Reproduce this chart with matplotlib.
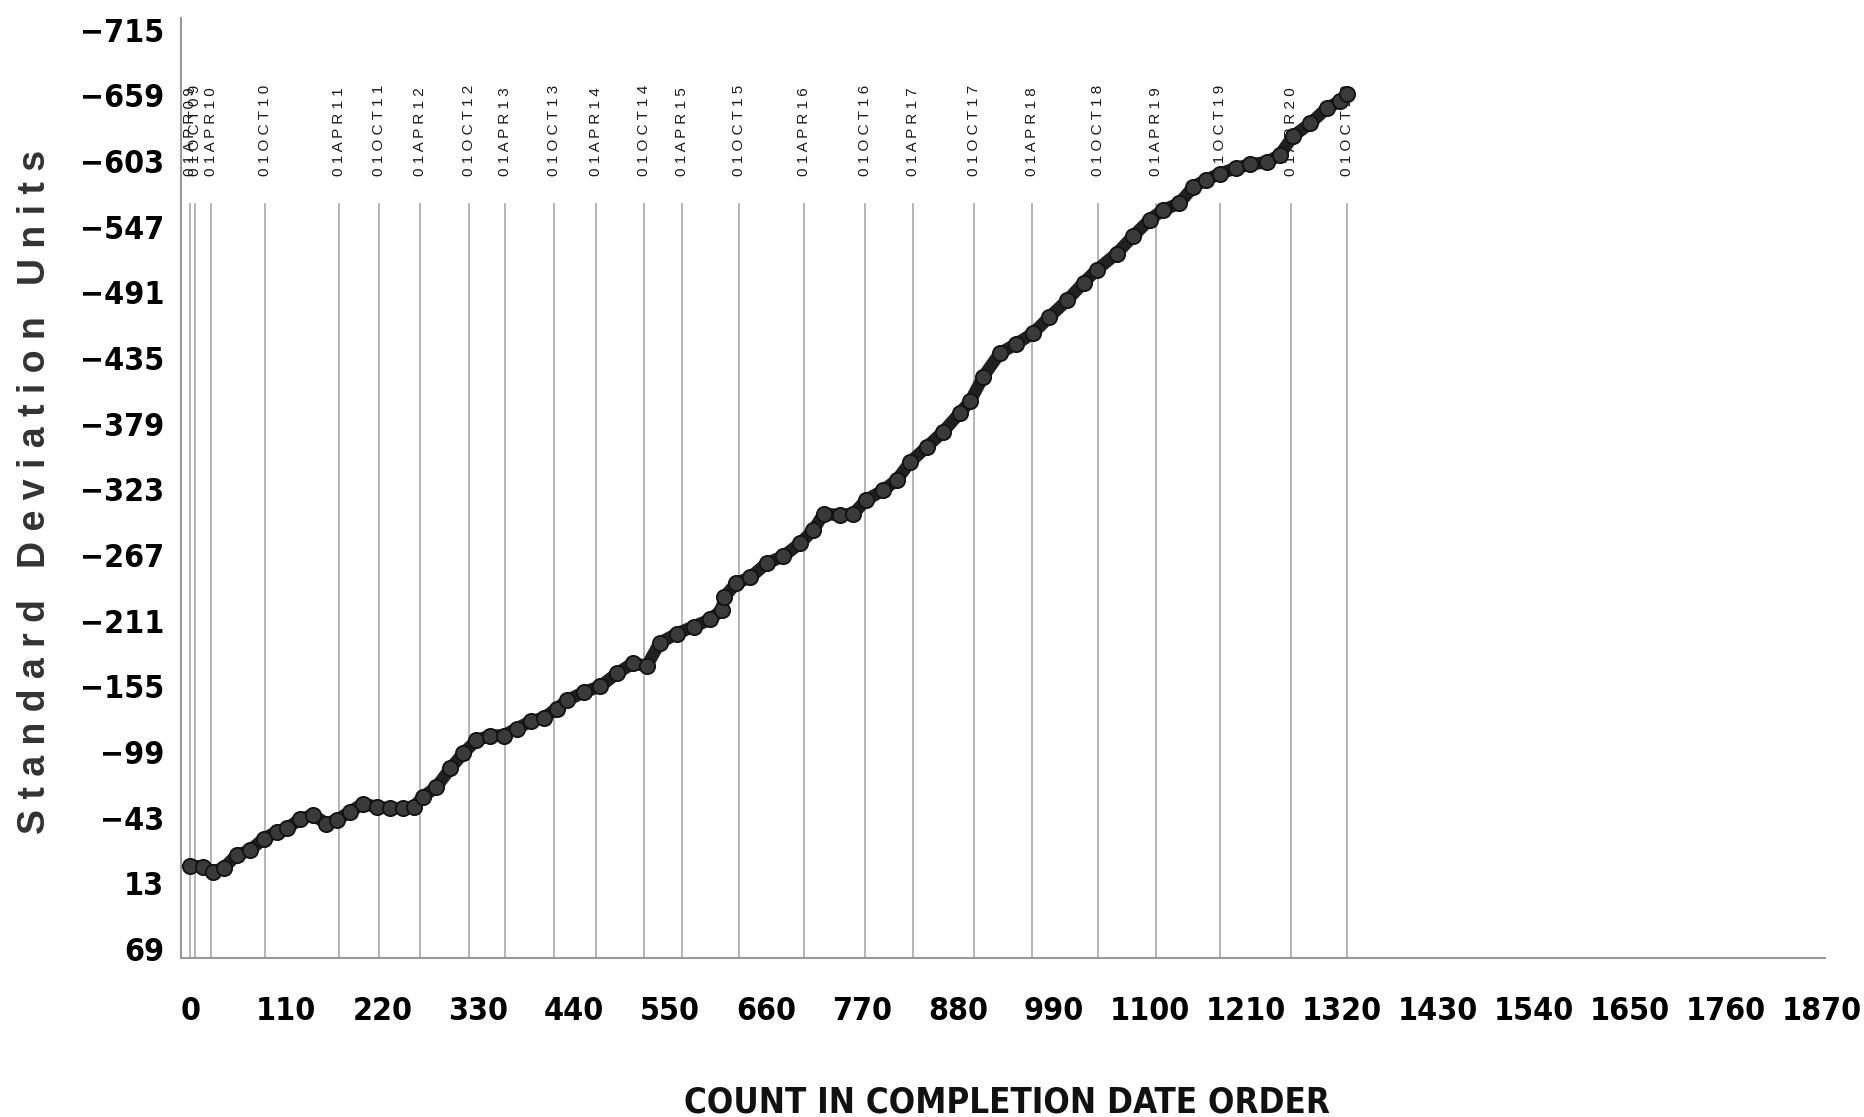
import matplotlib
matplotlib.use("Agg")
import matplotlib.pyplot as plt
from matplotlib import font_manager
from matplotlib.font_manager import FontProperties
from matplotlib.ticker import FixedLocator, FixedFormatter

# cumulative standard deviation units
count = [0, 15, 26, 38, 53, 68, 84, 99, 111, 126, 141, 156, 168, 183, 198, 214,
         229, 244, 256, 267, 282, 298, 313, 328, 344, 359, 374, 390, 405, 420,
         432, 451, 470, 489, 508, 523, 538, 558, 577, 596, 609, 612, 626, 642,
         661, 680, 699, 714, 726, 745, 760, 775, 794, 810, 825, 844, 863, 882,
         894, 909, 928, 947, 966, 985, 1005, 1024, 1039, 1062, 1081, 1100, 1115,
         1134, 1150, 1165, 1180, 1199, 1215, 1234, 1249, 1264, 1284, 1303, 1318,
         1326]
sdu = [-2, -1, 3, 0, -11, -15, -25, -31, -34, -42, -45, -38, -41, -48, -55, -52,
       -51, -51, -52, -61, -69, -85, -98, -109, -113, -113, -119, -125, -128, -136,
       -143, -150, -155, -166, -175, -172, -192, -200, -206, -212, -220, -231, -243, -248,
       -260, -266, -277, -288, -302, -301, -302, -314, -322, -331, -346, -359, -372, -388,
       -398, -419, -439, -447, -456, -470, -484, -499, -510, -524, -539, -553, -561,
       -567, -581, -587, -592, -597, -600, -602, -608, -624, -635, -648, -654,
       -660]

# date markers (count position where each date starts)
date_names = ["01APR09", "01OCT09", "01APR10", "01OCT10", "01APR11", "01OCT11",
              "01APR12", "01OCT12", "01APR13", "01OCT13", "01APR14", "01OCT14",
              "01APR15", "01OCT15", "01APR16", "01OCT16", "01APR17", "01OCT17",
              "01APR18", "01OCT18", "01APR19", "01OCT19", "01APR20", "01OCT20"]
date_pos = [0, 5, 24, 86, 170, 216, 263, 320, 361, 417, 465, 520, 564, 629,
            703, 773, 828, 898, 965, 1041, 1107, 1180, 1262, 1326]

xticks = list(range(0, 1871, 110))
yticks = list(range(-715, 70, 56))


# look for a narrow bold face for the numbers, else plain Liberation Sans bold
def narrow_bold():
    rank = {"ultra-condensed": 0, "extra-condensed": 1, "condensed": 2, "semi-condensed": 3}
    best = None
    for f in font_manager.fontManager.ttflist:
        st = str(f.stretch)
        w = f.weight
        if isinstance(w, str):
            w = font_manager.weight_dict.get(w, 400)
        narrow = st in rank or "Narrow" in f.name or "Condensed" in f.name
        if not narrow or w < 600 or "Mono" in f.name or "CJK" in f.name:
            continue
        r = rank.get(st, 2)
        key = (r, abs(w - 700))
        if best is None or key < best[0]:
            best = (key, f.fname)
    if best:
        return FontProperties(fname=best[1])
    return FontProperties(family=["Liberation Sans", "DejaVu Sans"], weight="bold")


numfont = narrow_bold()

fig = plt.figure(figsize=(18.64, 11.17), dpi=100)
ax = fig.add_axes([0.097, 0.142, 0.882, 0.842])

# vertical date lines + labels
for name, xp in zip(date_names, date_pos):
    ax.plot([xp, xp], [77, -566], color="#a8a8a8", lw=1.2, zorder=1)
    ax.text(xp, -590, " ".join(name), rotation=90, ha="center", va="bottom",
            fontsize=11, color="#1a1a1a", family=["Liberation Sans", "DejaVu Sans"],
            zorder=2)

ax.plot(count, sdu, color="#202020", lw=9, solid_capstyle="round",
        marker="o", ms=11, mfc="#3a3a3a", mec="#121212", mew=1.3, zorder=3)

ax.set_xlim(-11, 1874)
ax.set_ylim(77, -725)

ax.xaxis.set_major_locator(FixedLocator(xticks))
ax.xaxis.set_major_formatter(FixedFormatter([str(v) for v in xticks]))
ax.yaxis.set_major_locator(FixedLocator(yticks))
ax.yaxis.set_major_formatter(FixedFormatter([str(v).replace("-", "\u2212") for v in yticks]))

ax.tick_params(axis="both", length=0)
ax.tick_params(axis="x", pad=27)
ax.tick_params(axis="y", pad=12)
for lab in ax.get_xticklabels() + ax.get_yticklabels():
    lab.set_fontproperties(numfont)
    lab.set_fontsize(23)

for side in ["top", "right"]:
    ax.spines[side].set_visible(False)
for side in ["left", "bottom"]:
    ax.spines[side].set_color("#999999")
    ax.spines[side].set_linewidth(1.5)

ylab = "   ".join(" ".join(w) for w in ["Standard", "Deviation", "Units"])
fig.text(0.019, 0.56, ylab, rotation=90, ha="center", va="center",
         fontsize=27, fontweight="bold", color="#333333",
         family=["Liberation Sans", "DejaVu Sans"])
xl = fig.text(0.54, 0.013, "COUNT IN COMPLETION DATE ORDER", ha="center", va="center",
              fontproperties=numfont, color="#111111")
xl.set_fontsize(25)

fig.savefig("out.png", dpi=100)
